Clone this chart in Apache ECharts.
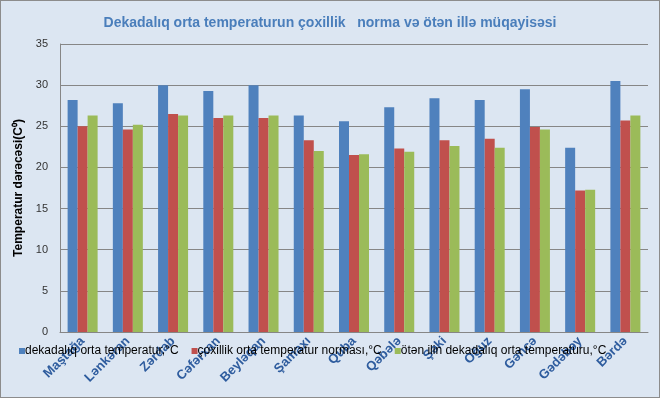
<!DOCTYPE html>
<html>
<head>
<meta charset="utf-8">
<script src="https://cdn.jsdelivr.net/npm/echarts@6/dist/echarts.min.js"></script>
<style>
  html, body { margin: 0; padding: 0; background: #fff; }
  #main { width: 658px; height: 396px; border: 1px solid #8c8c8c; background: #dce6f2; }
</style>
</head>
<body>
<div id="main"></div>
<script>
// stansiyalar
const stations = ["Maştağa", "Lənkəran", "Zərdab", "Cəfərxan", "Beyləqan", "Şamaxı", "Quba",
  "Qəbələ", "Şəki", "Oğuz", "Gəncə", "Gədəbəy", "Bərdə"];
const seriesNames = ["dekadalıq orta temperatur,°C", "çoxillik orta temperatur norması,°C",
  "ötən ilin dekadalıq orta temperaturu,°C"];
const dekadaTemp = [28.2, 27.8, 30.0, 29.3, 30.0, 26.3, 25.6, 27.3, 28.4, 28.2, 29.5, 22.4, 30.5];
const normaTemp = [25.0, 24.6, 26.5, 26.0, 26.0, 23.3, 21.5, 22.3, 23.3, 23.5, 24.9, 17.2, 25.7];
const otenIlTemp = [26.3, 25.2, 26.3, 26.3, 26.3, 22.0, 21.6, 21.9, 22.6, 22.4, 24.6, 17.3, 26.3];

const font = "Liberation Sans, Arial, sans-serif";
let myChart = echarts.init(document.getElementById("main"));
let option = {
  animation: false,
  textStyle: { fontFamily: font },
  title: {
    text: "Dekadalıq orta temperaturun çoxillik   norma və ötən illə müqayisəsi",
    left: "center",
    top: 10,
    textStyle: { color: "#4a7ebb", fontSize: 14, fontWeight: "bold", fontFamily: font }
  },
  legend: {
    left: 13,
    top: 339,
    itemWidth: 6,
    itemHeight: 6,
    itemGap: 13,
    icon: "rect",
    textStyle: { color: "#000", fontSize: 12, fontFamily: font, padding: [0, 0, 0, -5] },
    data: seriesNames
  },
  grid: { left: 59, right: 11, top: 43, bottom: 65 },
  xAxis: {
    type: "category",
    data: stations,
    axisLine: { lineStyle: { color: "#868686" } },
    axisTick: { show: false },
    axisLabel: {
      rotate: 45,
      interval: 0,
      margin: 7,
      color: "#2e5c9e",
      fontWeight: "bold",
      fontSize: 13,
      fontFamily: font
    }
  },
  yAxis: {
    type: "value",
    min: 0,
    max: 35,
    interval: 5,
    name: "Temperatur dərəcəsi(C⁰)",
    nameLocation: "middle",
    nameGap: 26,
    nameTextStyle: { color: "#000", fontSize: 12, fontWeight: "bold", fontFamily: font },
    axisLine: { show: true, lineStyle: { color: "#868686" } },
    axisTick: { show: false },
    axisLabel: { color: "#333", fontSize: 11, margin: 12, fontFamily: font },
    splitLine: { lineStyle: { color: "#868686" } }
  },
  series: [
    { name: seriesNames[0], type: "bar", data: dekadaTemp, barWidth: 10, barGap: "0%",
      itemStyle: { color: "#4f81bd" } },
    { name: seriesNames[1], type: "bar", data: normaTemp, barWidth: 10, barGap: "0%",
      itemStyle: { color: "#c0504d" } },
    { name: seriesNames[2], type: "bar", data: otenIlTemp, barWidth: 10, barGap: "0%",
      itemStyle: { color: "#9bbb59" } }
  ]
};
myChart.setOption(option);
</script>
</body>
</html>
